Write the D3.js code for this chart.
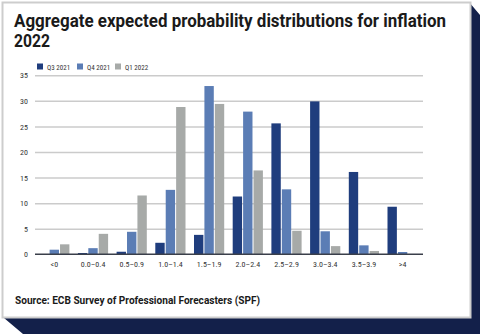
<!DOCTYPE html>
<html><head><meta charset="utf-8">
<script src="https://cdn.jsdelivr.net/npm/d3@7"></script>
<style>
html,body{margin:0;padding:0;background:#fff;}
svg{display:block;}
</style></head>
<body>
<script>
const categories = ["<0","0.0–0.4","0.5–0.9","1.0–1.4","1.5–1.9","2.0–2.4","2.5–2.9","3.0–3.4","3.5–3.9",">4"];
const seriesNames = ["Q3 2021","Q4 2021","Q1 2022"];
const q3_2021 = [0, 0.25, 0.5, 2.25, 3.8, 11.3, 25.6, 29.9, 16.1, 9.3];
const q4_2021 = [0.9, 1.2, 4.4, 12.6, 32.9, 27.9, 12.7, 4.5, 1.75, 0.45];
const q1_2022 = [1.95, 4.0, 11.5, 28.8, 29.4, 16.4, 4.6, 1.6, 0.65, 0];
const yTicks = [0,5,10,15,20,25,30,35];
const colors = ["#1f3d7d","#5b7db5","#a7aaa8"];
const titleLines = ["Aggregate expected probability distributions for inflation","2022"];
const sourceText = "Source: ECB Survey of Professional Forecasters (SPF)";

const W=480,H=334;
const svg=d3.select("body").append("svg").attr("width",W).attr("height",H);

// navy frame behind
svg.append("polygon").attr("points","469,2 480,15 480,334 23,334 4,318 469,318").attr("fill","#13204a");
// card
svg.append("rect").attr("x",2.5).attr("y",2.5).attr("width",468).attr("height",315)
  .attr("fill","#fff").attr("stroke","#cdcdcd").attr("stroke-width",2);

const condensed = "'Roboto Condensed','Liberation Sans Narrow','DejaVu Sans Condensed',Roboto,sans-serif";

// title
svg.append("text").attr("x",14).attr("y",27).text(titleLines[0])
  .attr("font-family","Roboto,'DejaVu Sans',sans-serif").attr("font-weight","bold").attr("font-size",17.5)
  .attr("fill","#1a1a1a").attr("textLength",432).attr("lengthAdjust","spacingAndGlyphs");
svg.append("text").attr("x",14).attr("y",47).text(titleLines[1])
  .attr("font-family","Roboto,'DejaVu Sans',sans-serif").attr("font-weight","bold").attr("font-size",17.5)
  .attr("fill","#1a1a1a").attr("textLength",36).attr("lengthAdjust","spacingAndGlyphs");

// scales
const y=d3.scaleLinear().domain([0,35]).range([254.3,75.3]);
const x0=d3.scaleBand().domain(categories).range([35,422]).paddingInner(0).paddingOuter(0);
const x1=d3.scaleBand().domain(seriesNames).range([4.2,34.4]).paddingInner(0.1).paddingOuter(0);

// gridlines
const yAxis=d3.axisLeft(y).tickValues(yTicks).tickSize(-(423-35)).tickPadding(6).tickFormat(d3.format("d"));
const gy=svg.append("g").attr("transform","translate(35,0)").call(yAxis);
gy.select(".domain").remove();
gy.selectAll(".tick line").attr("stroke","#cbcbcb").attr("stroke-width",1.5);
gy.selectAll(".tick text").attr("font-family",condensed).attr("font-size",8).attr("fill","#333").attr("x",-7);
gy.selectAll(".tick").filter(d=>d===0).select("line").remove();

// bars
const seriesData=[q3_2021,q4_2021,q1_2022];
const g=svg.append("g");
categories.forEach((c,i)=>{
  seriesNames.forEach((s,j)=>{
    const v=seriesData[j][i];
    if(v<=0) return;
    g.append("rect").attr("x",x0(c)+x1(s)).attr("width",x1.bandwidth())
      .attr("y",y(v)).attr("height",y(0)-y(v)).attr("fill",colors[j]);
  });
});

// x axis
const xAxis=d3.axisBottom(x0).tickSize(0).tickPadding(7);
const gx=svg.append("g").attr("transform","translate(0,254.3)").call(xAxis);
gx.select(".domain").attr("stroke","#3a3f4a").attr("stroke-width",1.5).attr("d","M35,0H423");
gx.selectAll(".tick text").attr("font-family",condensed).attr("font-size",8).attr("fill","#333");

// legend
const legX=[37,77,115];
seriesNames.forEach((s,j)=>{
  svg.append("rect").attr("x",legX[j]).attr("y",63.5).attr("width",6).attr("height",6).attr("fill",colors[j]);
  svg.append("text").attr("x",legX[j]+10).attr("y",69.5).text(s)
    .attr("font-family",condensed).attr("font-size",7).attr("fill","#333");
});

// source
svg.append("text").attr("x",15).attr("y",304).text(sourceText)
  .attr("font-family","Roboto,'DejaVu Sans',sans-serif").attr("font-weight","bold").attr("font-size",11)
  .attr("fill","#1a1a1a").attr("textLength",245).attr("lengthAdjust","spacingAndGlyphs");
</script>
</body></html>
